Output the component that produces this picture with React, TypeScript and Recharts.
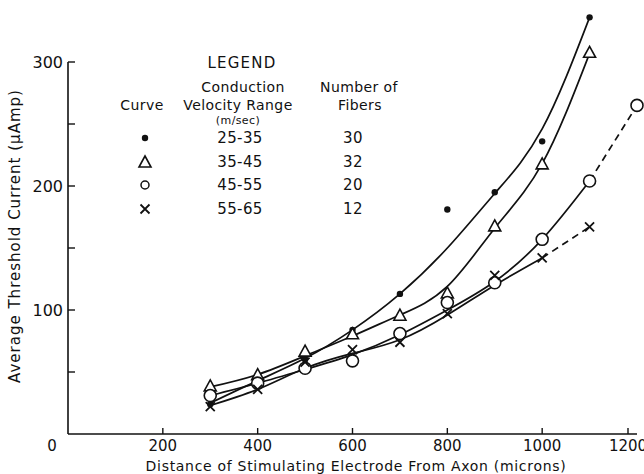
import React from "react";
import {
  ComposedChart,
  Line,
  Scatter,
  XAxis,
  YAxis,
  ReferenceLine,
} from "recharts";

const INK = "#111";
const FONT = "'DejaVu Sans', sans-serif";

// marker positions (microns)
const distances = [300, 400, 500, 600, 700, 800, 900, 1000, 1100];

// measured points, µAmp
const dots25to35 = [24, 43, 60, 84, 113, 181, 195, 236, 336];
const tri35to45 = [38, 47, 66, 80, 95, 113, 167, 217, 307];
const circ45to55 = [31, 41, 53, 59, 81, 106, 122, 157, 204];
const circ45to55Extra = { x: 1200, y: 265 };
const cross55to65 = [22, 36, 58, 68, 74, 97, 128, 142, 167];

// fitted curves as drawn, read at the same distances
const curve25to35 = [25, 43, 61, 84, 113, 150, 194, 246, 336];
const curve35to45 = [38, 48, 63, 79, 96, 119, 166, 218, 307];
const curve45to55 = [31, 41, 52, 64, 80, 100, 123, 157, 204];
const curve55to65 = [23, 36, 53, 65, 76, 96, 120, 142];

const xTicks = [0, 200, 400, 600, 800, 1000, 1200];
const yTicks = [50, 100, 150, 200, 250, 300];
const yLabels = [100, 200, 300];

const legendRows = [
  { shape: "dot", range: "25-35", fibers: "30" },
  { shape: "tri", range: "35-45", fibers: "32" },
  { shape: "circ", range: "45-55", fibers: "20" },
  { shape: "cross", range: "55-65", fibers: "12" },
];

const pts = (ys: number[]) => ys.map((y, i) => ({ x: distances[i], y }));

function Dot({ cx, cy }: any) {
  return <circle cx={cx} cy={cy} r={3.2} fill={INK} />;
}
function Tri({ cx, cy }: any) {
  return (
    <path
      d={`M${cx},${cy - 7} L${cx + 6},${cy + 4} L${cx - 6},${cy + 4} Z`}
      fill="#fff"
      stroke={INK}
      strokeWidth={1.6}
    />
  );
}
function Circ({ cx, cy }: any) {
  return <circle cx={cx} cy={cy} r={6} fill="#fff" stroke={INK} strokeWidth={1.6} />;
}
function Cross({ cx, cy }: any) {
  return (
    <path
      d={`M${cx - 4.5},${cy - 4.5} L${cx + 4.5},${cy + 4.5} M${cx + 4.5},${cy - 4.5} L${cx - 4.5},${cy + 4.5}`}
      stroke={INK}
      strokeWidth={1.8}
    />
  );
}

function YTick({ x, y, payload }: any) {
  return (
    <g>
      <line x1={x} x2={x + 7} y1={y} y2={y} stroke={INK} strokeWidth={1.4} />
      {yLabels.includes(payload.value) && (
        <text x={x - 5} y={y} dy="0.36em" textAnchor="end" fontSize={16} fontFamily={FONT} fill={INK}>
          {payload.value}
        </text>
      )}
    </g>
  );
}

function XTick({ x, y, payload }: any) {
  const zero = payload.value === 0;
  return (
    <g>
      {!zero && <line x1={x} x2={x} y1={y} y2={y - 6} stroke={INK} strokeWidth={1.4} />}
      <text x={zero ? x - 16 : x} y={y + 17} textAnchor="middle" fontSize={15} fontFamily={FONT} fill={INK}>
        {payload.value}
      </text>
    </g>
  );
}

function LegendSymbol({ shape }: { shape: string }) {
  const c = 8;
  return (
    <svg width={16} height={16} style={{ display: "block" }}>
      {shape === "dot" && <Dot cx={c} cy={c} />}
      {shape === "tri" && <Tri cx={c} cy={c + 1} />}
      {shape === "circ" && <circle cx={c} cy={c} r={4} fill="#fff" stroke={INK} strokeWidth={1.5} />}
      {shape === "cross" && <Cross cx={c} cy={c} />}
    </svg>
  );
}

function Centered({
  x,
  y,
  size = 14,
  spacing = 0.4,
  children,
}: {
  x: number;
  y: number;
  size?: number;
  spacing?: number;
  children: React.ReactNode;
}) {
  return (
    <div
      style={{
        position: "absolute",
        left: x,
        top: y,
        transform: "translate(-50%, -50%)",
        fontSize: size,
        fontFamily: FONT,
        letterSpacing: spacing,
        color: INK,
        whiteSpace: "nowrap",
        lineHeight: 1,
      }}
    >
      {children}
    </div>
  );
}

function Legend() {
  return (
    <>
      <Centered x={242} y={63} size={15} spacing={1.2}>LEGEND</Centered>
      <Centered x={243} y={87}>Conduction</Centered>
      <Centered x={238} y={105}>Velocity Range</Centered>
      <Centered x={238} y={120} size={11}>(m/sec)</Centered>
      <Centered x={142} y={105}>Curve</Centered>
      <Centered x={359} y={87}>Number of</Centered>
      <Centered x={360} y={105}>Fibers</Centered>
      {legendRows.map((r, i) => {
        const y = 138 + i * 23.5;
        return (
          <React.Fragment key={r.range}>
            <Centered x={145} y={y} spacing={0}>
              <LegendSymbol shape={r.shape} />
            </Centered>
            <Centered x={240} y={y} size={15}>{r.range}</Centered>
            <Centered x={353} y={y} size={15}>{r.fibers}</Centered>
          </React.Fragment>
        );
      })}
    </>
  );
}

export default function App() {
  const solid = { stroke: INK, strokeWidth: 1.7, dot: false, activeDot: false, isAnimationActive: false } as const;
  return (
    <div style={{ position: "absolute", left: 0, top: 0, width: 644, height: 474, background: "#fff", overflow: "hidden" }}>
      <ComposedChart width={644} height={474} margin={{ top: 0, right: 7, bottom: 0, left: 8 }}>
        <XAxis
          type="number"
          dataKey="x"
          domain={[0, 1200]}
          ticks={xTicks}
          height={40}
          axisLine={false}
          tickLine={false}
          tickSize={0}
          tickMargin={0}
          tick={<XTick />}
        />
        <YAxis
          type="number"
          dataKey="y"
          domain={[0, 350]}
          ticks={yTicks}
          width={60}
          axisLine={false}
          tickLine={false}
          tickSize={0}
          tickMargin={0}
          tick={<YTick />}
        />
        <ReferenceLine segment={[{ x: 0, y: 0 }, { x: 0, y: 300 }]} stroke={INK} strokeWidth={1.6} ifOverflow="visible" />
        <ReferenceLine segment={[{ x: 0, y: 0 }, { x: 1200, y: 0 }]} stroke={INK} strokeWidth={1.6} ifOverflow="visible" />

        <Line data={pts(curve25to35)} dataKey="y" type="natural" {...solid} />
        <Line data={pts(curve35to45)} dataKey="y" type="natural" {...solid} />
        <Line data={pts(curve45to55)} dataKey="y" type="natural" {...solid} />
        <Line data={[{ x: 1100, y: curve45to55[8] }, circ45to55Extra]} dataKey="y" type="linear" {...solid} strokeDasharray="7 5" />
        <Line data={pts(curve55to65)} dataKey="y" type="natural" {...solid} />
        <Line data={[{ x: 1000, y: curve55to65[7] }, { x: 1100, y: cross55to65[8] }]} dataKey="y" type="linear" {...solid} strokeDasharray="7 5" />

        <Scatter data={pts(dots25to35)} shape={<Dot />} isAnimationActive={false} />
        <Scatter data={pts(tri35to45)} shape={<Tri />} isAnimationActive={false} />
        <Scatter data={[...pts(circ45to55), circ45to55Extra]} shape={<Circ />} isAnimationActive={false} />
        <Scatter data={pts(cross55to65)} shape={<Cross />} isAnimationActive={false} />
      </ComposedChart>

      <Legend />

      <div
        style={{
          position: "absolute",
          left: 15,
          top: 236,
          transform: "translate(-50%, -50%) rotate(-90deg)",
          fontSize: 15,
          letterSpacing: 1,
          fontFamily: FONT,
          color: INK,
          whiteSpace: "nowrap",
        }}
      >
        Average Threshold Current (μAmp)
      </div>
      <Centered x={356} y={466} spacing={0.7}>Distance of Stimulating Electrode From Axon (microns)</Centered>
    </div>
  );
}
